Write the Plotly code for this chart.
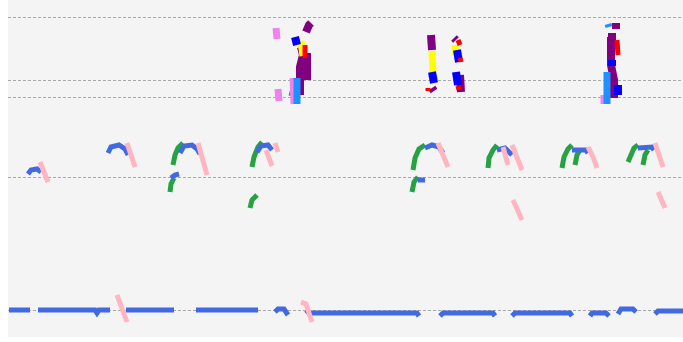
import plotly.graph_objects as go

N = None

# ---- data: time index (t) and level (v) for each colour group; None breaks a stroke ----
royal_t = [1, 22, N, 30, 87, 89, 91, 102, N, 118, 166, N, 188, 250, N, 267, 270, 276, 280, N,
           298, 301, 409, 411, N, 432, 435, 485, 487, N, 504, 507, 562, 564, N,
           582, 584, 598, 601, N, 610, 613, 625, 628, N, 647, 650, 675, N,
           20, 23, 29, 33, N, 100, 103, 111, 117, 120, N, 172, 176, 184, 189, 192, N,
           163, 167, 171, N, 249, 253, 260, 264, N, 417, 424, 431, 435, N, 410, 417, N,
           489, 497, 504, N, 564, 578, 580, N, 630, 644, 646]
royal_v = [27, 27, N, 27, 27, 24, 27, 27, N, 27, 27, N, 27, 27, N, 25, 28, 28, 22, N,
           27, 24, 24, 21, N, 21, 24, 24, 21, N, 21, 24, 24, 21, N,
           21, 24, 24, 21, N, 23, 28, 28, 25, N, 23, 26, 26, N,
           163, 167, 168, 165, N, 184, 190, 192, 188, 182, N, 184, 191, 192, 188, 183, N,
           159, 162, 163, N, 185, 191, 192, 187, N, 189, 192, 190, 184, N, 157, 157, N,
           187, 189, 182, N, 187, 187, 184, N, 189, 190, 187]

pink_t = [32, 40, N, 119, 127, N, 190, 199, N, 258, 264, N, 267, 270, N, 430, 440, N,
          495, 500, N, 504, 514, N, 505, 514, N, 580, 585, 589, N, 647, 655, N, 650, 657, N,
          109, 119, N, 293, 298, 304]
pink_v = [175, 155, N, 194, 170, N, 194, 162, N, 187, 171, N, 194, 185, N, 194, 170, N,
          190, 172, N, 192, 167, N, 137, 117, N, 190, 180, 169, N, 194, 170, N, 145, 129, N,
          42, 15, N, 35, 33, 15]

green_t = [165, 167, 170, 175, N, 162, 163, 166, N, 244, 246, 250, 254, N, 242, 244, 249, N,
           405, 407, 411, 417, N, 404, 406, 410, N, 480, 481, 485, 489, N,
           554, 556, 560, 564, N, 567, 569, 572, N, 620, 624, 626, 630, N, 635, 637, 640, N,
           285, 283]
green_v = [172, 182, 189, 194, N, 145, 153, 159, N, 170, 180, 190, 195, N, 129, 137, 142, N,
           167, 179, 188, 192, N, 145, 155, 160, N, 169, 179, 187, 192, N,
           169, 180, 188, 192, N, 172, 182, 187, N, 175, 185, 189, 192, N, 172, 182, 187, N,
           249, 241]

purple_t = [303, 301, 298, N, 293, 295, 292, 292, N, 299, 299, N, 423, 424, N, 424, 426, N,
            446, 448, N, 452, 453, N, 608, 608, N, 600, 608, N, 603, 603, 606, 606]
purple_v = [314, 312, 305, N, 290, 282, 270, 242, N, 284, 257, N, 302, 287, N, 249, 246, N,
            299, 297, N, 262, 245, N, 314, 308, N, 300, 300, N, 300, 272, 257, 239]

yellow_t = [293, 295, N, 424, 425, N, 447, 448]
yellow_v = [296, 281, N, 286, 264, N, 292, 282]

blue_t = [287, 289, N, 424, 426, N, 449, 451, N, 448, 450, N, 604, 604, N, 610, 610]
blue_v = [300, 292, N, 265, 254, N, 287, 275, N, 265, 252, N, 277, 271, N, 252, 242]

red_t = [297, 297, N, 420, 420, N, 450, 452, N, 452, 453, N, 450, 451, N, 609, 610]
red_v = [292, 279, N, 249, 246, N, 297, 292, N, 279, 275, N, 251, 247, N, 297, 282]

violet_t = [268, 269, N, 270, 271, N, 285, 286, N, 596, 596]
violet_v = [309, 298, N, 248, 236, N, 259, 233, N, 242, 233]

dodger_t = [289, 289, N, 599, 599, N, 600, 601]
dodger_v = [259, 233, N, 265, 233, N, 313, 310]

grid_levels = [27, 160, 240, 257, 320]

fig = go.Figure()


def add(t, v, color, width):
    fig.add_trace(go.Scatter(x=t, y=v, mode="lines", connectgaps=False,
                             line=dict(color=color, width=width),
                             hoverinfo="skip", showlegend=False))


add(green_t, green_v, "#27a243", 5)
add(royal_t, royal_v, "#4169E1", 5)
add(pink_t, pink_v, "#FFB6C1", 5)
add(purple_t, purple_v, "#800080", 8)
add(yellow_t, yellow_v, "#FFFF00", 7)
add(blue_t, blue_v, "#0000FF", 8)
add(red_t, red_v, "#FF0000", 5)
add(violet_t, violet_v, "#EE82EE", 7)
add(dodger_t, dodger_v, "#1E90FF", 7)

fig.update_layout(
    width=683, height=342,
    margin=dict(l=8, r=0, t=0, b=5),
    paper_bgcolor="white",
    plot_bgcolor="#f4f4f4",
    showlegend=False,
    xaxis=dict(range=[0, 675], showgrid=False, zeroline=False,
               showticklabels=False, ticks=""),
    yaxis=dict(range=[0, 337], tickmode="array", tickvals=grid_levels,
               showgrid=True, gridcolor="#a9a9a9", gridwidth=1, griddash="3px,2px",
               zeroline=False, showticklabels=False, ticks=""),
)

fig.write_html("out.html", config={"displayModeBar": False},
               post_script="document.body.style.margin='0px';")
